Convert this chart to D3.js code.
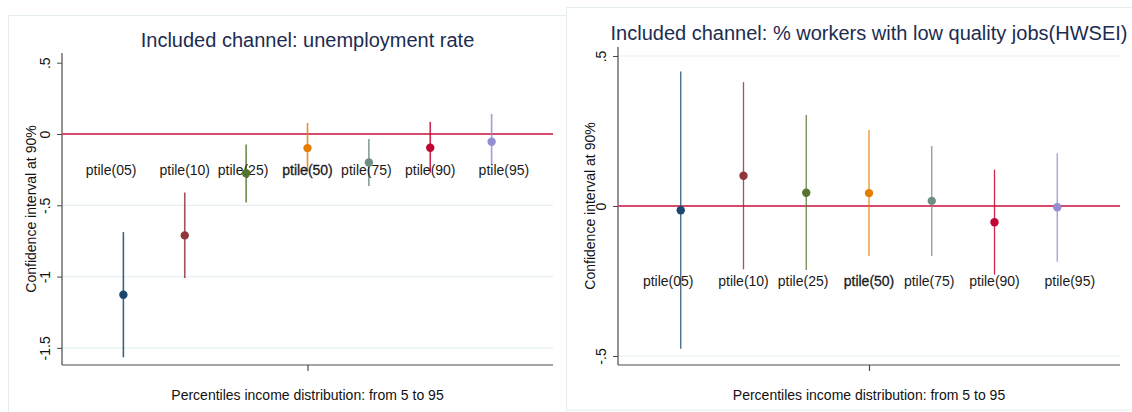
<!DOCTYPE html>
<html>
<head>
<meta charset="utf-8">
<script src="https://cdn.jsdelivr.net/npm/d3@7"></script>
<style>
  html, body { margin: 0; padding: 0; background: #ffffff; }
  svg { display: block; }
  text { font-family: "Liberation Sans", Arial, sans-serif; }
</style>
</head>
<body>
<svg id="chart" width="1132" height="412"></svg>
<script>
// Percentile groups and their label placement along the x axis
const percentiles = ["ptile(05)", "ptile(10)", "ptile(25)", "ptile(50)", "ptile(75)", "ptile(90)", "ptile(95)"];
const groupPos = [1, 2, 3, 4, 5, 6, 7];
const labelPos = [0.8, 2, 2.95, 4, 4.96, 6, 7.2];
const labelLevel = -0.25;

// Channel: unemployment rate — point estimates and 90% confidence bounds
const unempEst = [-1.127, -0.711, -0.275, -0.099, -0.200, -0.096, -0.054];
const unempLo  = [-1.566, -1.010, -0.481, -0.270, -0.364, -0.272, -0.218];
const unempHi  = [-0.688, -0.410, -0.073,  0.077, -0.035,  0.085,  0.141];

// Channel: % workers with low quality jobs (HWSEI)
const hwseiEst = [-0.014, 0.101, 0.044, 0.043, 0.017, -0.054, -0.004];
const hwseiLo  = [-0.476, -0.211, -0.213, -0.167, -0.167, -0.229, -0.186];
const hwseiHi  = [ 0.448, 0.413, 0.303, 0.253, 0.200, 0.121, 0.176];

// Y tick values and their printed labels
const unempTicks = [0.5, 0, -0.5, -1, -1.5];
const unempTickLabels = [".5", "0", "-.5", "-1", "-1.5"];
const hwseiTicks = [0.5, 0, -0.5];
const hwseiTickLabels = [".5", "0", "-.5"];

const seriesColors = ["#1a476f", "#90353b", "#55752f", "#e37e00", "#6e8e84", "#c10534", "#938dd2"];

const yTitle = "Confidence interval at 90%";
const xTitle = "Percentiles income distribution: from 5 to 95";

const svg = d3.select("#chart");

// panel frames
svg.append("rect").attr("x", 8.5).attr("y", 15.5).attr("width", 558).attr("height", 410)
  .attr("fill", "#fff").attr("stroke", "#e4eeee").attr("stroke-width", 1);
svg.append("rect").attr("x", 566.5).attr("y", 7.5).attr("width", 580).attr("height", 402.5)
  .attr("fill", "#fff").attr("stroke", "#e4eeee").attr("stroke-width", 1);

function drawPanel(p) {
  const g = svg.append("g");
  const x = d3.scaleLinear().domain([0, 8]).range([p.left, p.right]);
  const y = d3.scaleLinear().domain(p.yDomain).range([p.bottom, p.top]);

  // grid lines
  g.selectAll("line.grid").data(p.grid).join("line")
    .attr("x1", p.left).attr("x2", p.right)
    .attr("y1", d => y(d)).attr("y2", d => y(d))
    .attr("stroke", "#e6f0f1").attr("stroke-width", 1.2);

  // y axis
  const yAxis = d3.axisLeft(y).tickValues(p.ticks).tickSize(5)
    .tickFormat((d, i) => p.tickLabels[i]);
  const ya = g.append("g").attr("transform", `translate(${p.left},0)`).call(yAxis);
  ya.select(".domain").attr("d", `M0,${p.top}V${p.bottom}`)
    .attr("stroke", "#4a4a4a").attr("stroke-width", 1.2);
  ya.selectAll(".tick line").attr("stroke", "#4a4a4a").attr("stroke-width", 1);
  ya.selectAll(".tick text")
    .attr("x", 0).attr("y", 0).attr("dy", null)
    .attr("transform", "translate(-12,0) rotate(-90)")
    .attr("text-anchor", "middle")
    .attr("font-size", 14).attr("fill", "#111");

  // x axis with a single centre tick
  const xAxis = d3.axisBottom(x).tickValues([4]).tickSize(6).tickFormat("");
  const xa = g.append("g").attr("transform", `translate(0,${p.bottom})`).call(xAxis);
  xa.select(".domain").attr("d", `M${p.left},0H${p.right}`)
    .attr("stroke", "#4a4a4a").attr("stroke-width", 1.2);
  xa.selectAll(".tick line").attr("stroke", "#4a4a4a").attr("stroke-width", 1.2);

  // zero reference line
  g.append("line")
    .attr("x1", p.left).attr("x2", p.right)
    .attr("y1", y(0)).attr("y2", y(0))
    .attr("stroke", "#d84a6c").attr("stroke-width", 2);

  // confidence intervals
  g.selectAll("line.ci").data(groupPos).join("line")
    .attr("x1", d => x(d)).attr("x2", d => x(d))
    .attr("y1", (d, i) => y(p.lo[i])).attr("y2", (d, i) => y(p.hi[i]))
    .attr("stroke", (d, i) => seriesColors[i])
    .attr("stroke-opacity", 0.85)
    .attr("stroke-width", p.ciWidth);

  // percentile labels
  g.selectAll("text.lbl").data(percentiles).join("text")
    .attr("x", (d, i) => x(labelPos[i]))
    .attr("y", y(labelLevel) + 5)
    .attr("text-anchor", "middle")
    .attr("font-size", 14).attr("fill", "#1a1a1a")
    .attr("stroke", (d, i) => i === 3 ? "#1a1a1a" : "none")
    .attr("stroke-width", 0.3)
    .text(d => d);

  // point estimates
  g.selectAll("circle.pt").data(groupPos).join("circle")
    .attr("cx", d => x(d))
    .attr("cy", (d, i) => y(p.est[i]))
    .attr("r", 4.2)
    .attr("fill", (d, i) => seriesColors[i]);

  // titles
  g.append("text")
    .attr("x", (p.left + p.right) / 2).attr("y", p.titleY)
    .attr("text-anchor", "middle").attr("font-size", 20).attr("fill", "#1c2c50")
    .text(p.title);
  g.append("text")
    .attr("transform", `translate(${p.yTitleX},${(p.top + p.bottom) / 2}) rotate(-90)`)
    .attr("text-anchor", "middle").attr("font-size", 14).attr("fill", "#111")
    .text(yTitle);
  g.append("text")
    .attr("x", (p.left + p.right) / 2).attr("y", 400)
    .attr("text-anchor", "middle").attr("font-size", 14).attr("fill", "#111")
    .text(xTitle);
}

drawPanel({
  left: 62, right: 553, top: 53, bottom: 365,
  yDomain: [-1.62, 0.568],
  ticks: unempTicks, tickLabels: unempTickLabels,
  grid: [-0.5, -1, -1.5],
  est: unempEst, lo: unempLo, hi: unempHi,
  ciWidth: 1.6,
  title: "Included channel: unemployment rate", titleY: 47,
  yTitleX: 36
});

drawPanel({
  left: 618, right: 1120, top: 47, bottom: 365,
  yDomain: [-0.53, 0.53],
  ticks: hwseiTicks, tickLabels: hwseiTickLabels,
  grid: [0.5, -0.5],
  est: hwseiEst, lo: hwseiLo, hi: hwseiHi,
  ciWidth: 1.3,
  title: "Included channel: % workers with low quality jobs(HWSEI)", titleY: 40,
  yTitleX: 595
});
</script>
</body>
</html>
